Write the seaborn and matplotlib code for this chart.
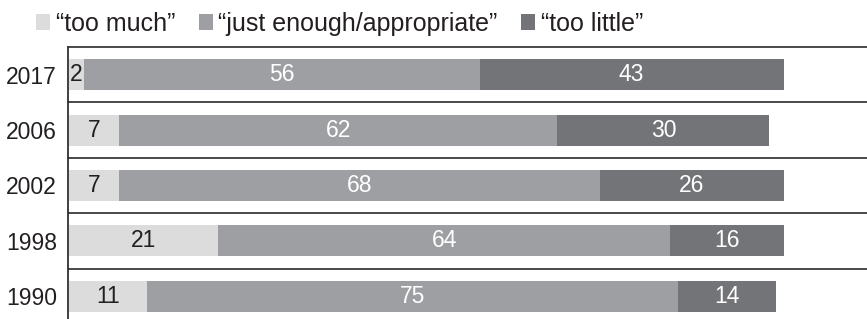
import numpy as np
import pandas as pd
import matplotlib.pyplot as plt
import seaborn as sns
from matplotlib.patches import Patch

years = ["2017", "2006", "2002", "1998", "1990"]
too_much = [2, 7, 7, 21, 11]
just_enough = [56, 62, 68, 64, 75]
too_little = [43, 30, 26, 16, 14]

series_names = ["\u201ctoo much\u201d", "\u201cjust enough/appropriate\u201d", "\u201ctoo little\u201d"]
colors = ["#dcdcdd", "#9e9fa2", "#737477"]
text_colors = ["#231f20", "white", "white"]

df = pd.DataFrame({"year": years, "a": too_much, "b": just_enough, "c": too_little})
df["cum_a"] = df["a"]
df["cum_b"] = df["a"] + df["b"]
df["cum_c"] = df["a"] + df["b"] + df["c"]

sns.set_theme(style="white")
plt.rcParams["font.family"] = ["Liberation Sans", "DejaVu Sans"]

fig = plt.figure(figsize=(8.67, 3.19), dpi=100)
ax = fig.add_axes([68 / 867, 0.0, 1 - 68 / 867, 1 - 47 / 319])

# stacked bars by overlaying cumulative totals, largest first
for col, color in zip(["cum_c", "cum_b", "cum_a"], colors[::-1]):
    sns.barplot(data=df, y="year", x=col, order=years, color=color,
                width=0.56, saturation=1, linewidth=0, ax=ax, orient="h")

# value labels centered in each segment
for i in range(len(years)):
    starts = [0, too_much[i], too_much[i] + just_enough[i]]
    vals = [too_much[i], just_enough[i], too_little[i]]
    for s, v, tc in zip(starts, vals, text_colors):
        ax.text(s + v / 2, i, str(v), ha="center", va="center",
                fontsize=16.5, color=tc)

# separator lines between rows
for k in range(len(years) - 1):
    ax.axhline(k + 0.5, color="#3a3a3a", linewidth=1.3)

ax.set_xlim(-0.2, 112.8)
ax.set_ylim(4.41, -0.5)
ax.set_xlabel("")
ax.set_ylabel("")
ax.set_xticks([])
ax.tick_params(axis="y", length=0, pad=8, labelsize=16.5, labelcolor="#231f20")
for side in ["right", "bottom"]:
    ax.spines[side].set_visible(False)
ax.spines["left"].set_color("#231f20")
ax.spines["left"].set_linewidth(1.2)
ax.spines["top"].set_color("#3a3a3a")
ax.spines["top"].set_linewidth(1.3)

handles = [Patch(facecolor=c, edgecolor="none") for c in colors]
fig.legend(handles, series_names, loc="upper left", bbox_to_anchor=(21 / 867, 1.01),
           ncol=3, frameon=False, fontsize=18, handlelength=0.56, handleheight=0.56,
           handletextpad=0.22, columnspacing=0.95, borderaxespad=0.2,
           labelcolor="#231f20")

fig.savefig("out.png", dpi=100, facecolor="white")
